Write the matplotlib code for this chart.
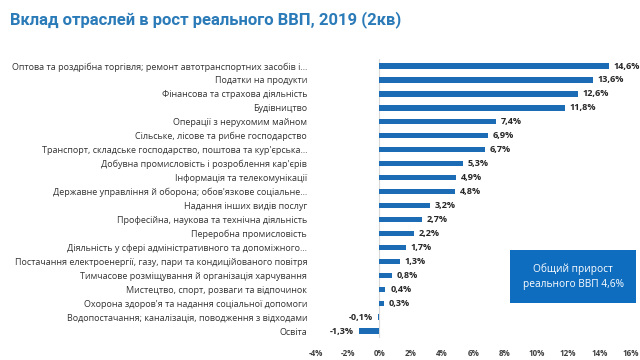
import matplotlib
matplotlib.use("Agg")
import matplotlib.pyplot as plt
from matplotlib.ticker import FixedLocator

plt.rcParams['font.family'] = ['Open Sans', 'DejaVu Sans']

categories = [
    "Оптова та роздрібна торгівля; ремонт автотранспортних засобів і…",
    "Податки на продукти",
    "Фінансова та страхова діяльність",
    "Будівництво",
    "Операції з нерухомим майном",
    "Сільське, лісове та рибне господарство",
    "Транспорт, складське господарство, поштова та кур'єрська…",
    "Добувна промисловість і розроблення кар'єрів",
    "Інформація та телекомунікації",
    "Державне управління й оборона; обов'язкове соціальне…",
    "Надання інших видів послуг",
    "Професійна, наукова та технічна діяльність",
    "Переробна промисловість",
    "Діяльність у сфері адміністративного та допоміжного…",
    "Постачання електроенергії, газу, пари та кондиційованого повітря",
    "Тимчасове розміщування й організація харчування",
    "Мистецтво, спорт, розваги та відпочинок",
    "Охорона здоров'я та надання соціальної допомоги",
    "Водопостачання; каналізація, поводження з відходами",
    "Освіта",
]
values = [14.6, 13.6, 12.6, 11.8, 7.4, 6.9, 6.7, 5.3, 4.9, 4.8,
          3.2, 2.7, 2.2, 1.7, 1.3, 0.8, 0.4, 0.3, -0.1, -1.3]
x_ticks = [-4, -2, 0, 2, 4, 6, 8, 10, 12, 14, 16]

title = "Вклад отраслей в рост реального ВВП, 2019 (2кв)"
note = "Общий прирост\nреального ВВП 4,6%"

bar_color = "#1b6cb5"
title_color = "#2b7bb9"

fig = plt.figure(figsize=(6.4, 3.6), dpi=100)
ax = fig.add_axes([0.494, 0.061, 0.492, 0.775])

ypos = list(range(len(values)))
ax.barh(ypos, values, height=0.38, color=bar_color)
ax.set_ylim(len(values) - 0.5, -0.5)
ax.set_xlim(-4, 16)

ax.set_yticks(ypos)
ax.set_yticklabels(categories, fontsize=6.5, color="#333333")
ax.xaxis.set_major_locator(FixedLocator(x_ticks))
ax.set_xticklabels([f"{t}%" for t in x_ticks], fontsize=5.8, color="#404040",
                   fontweight="bold")
ax.tick_params(axis="y", length=0, pad=6.5)
ax.tick_params(axis="x", length=0, pad=8)

for s in ["top", "right", "bottom", "left"]:
    ax.spines[s].set_visible(False)
ax.axvline(0, color="#d9d9d9", lw=0.8, zorder=0)

for y, v in zip(ypos, values):
    txt = f"{v:.1f}%".replace(".", ",")
    if v >= 0:
        ax.text(v + 0.3, y, txt, va="center", ha="left", fontsize=6.6,
                fontweight="bold", color="#262626")
    else:
        ax.text(v - 0.3, y, txt, va="center", ha="right", fontsize=6.6,
                fontweight="bold", color="#262626")

fig.text(0.016, 0.945, title, fontsize=12, fontweight="bold",
         color=title_color, va="center", ha="left",
         family=["Liberation Sans Narrow", "Roboto", "DejaVu Sans"])

# info box
box = fig.add_axes([0.797, 0.158, 0.197, 0.147])
box.set_facecolor("#0f6dbf")
box.set_xticks([])
box.set_yticks([])
for s in box.spines.values():
    s.set_visible(False)
box.text(0.5, 0.5, note, ha="center", va="center", color="white",
         fontsize=7.3, linespacing=1.5, transform=box.transAxes)

fig.savefig("out.png", dpi=100)
